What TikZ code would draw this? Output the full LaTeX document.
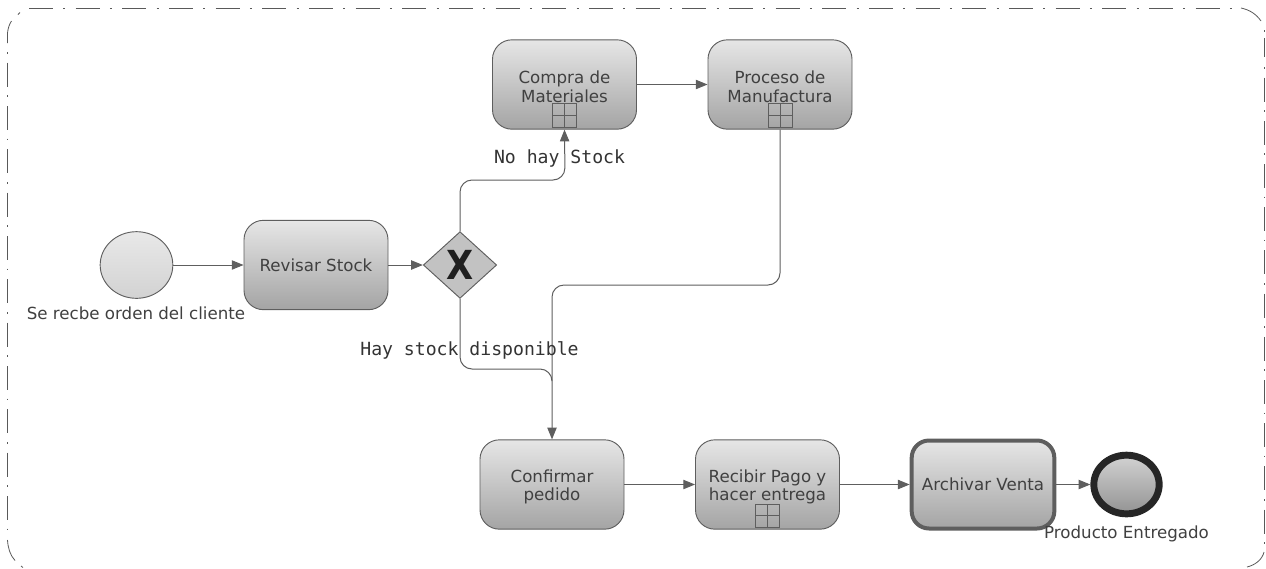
\documentclass[tikz,border=0pt]{standalone}
\usepackage{fontspec}
\setmainfont{DejaVu Sans}
\setmonofont{DejaVu Sans Mono}
\usetikzlibrary{arrows.meta,shapes.geometric,calc}
\definecolor{edgegray}{HTML}{5E5E5E}
\definecolor{txtgray}{HTML}{404040}
\definecolor{topgray}{HTML}{E6E6E6}
\definecolor{botgray}{HTML}{A4A4A4}
\newcommand{\lowertext}{\rule{0pt}{13pt}}
\tikzset{
  taskbox/.style={draw=edgegray,line width=0.7pt,rounded corners=14.5pt,minimum width=108pt,minimum height=67pt,inner sep=0pt,
    shade,top color=topgray,bottom color=botgray,text=txtgray,font=\fontsize{12.5}{14.1}\selectfont,align=center},
  startev/.style={draw=edgegray,line width=0.7pt,ellipse,minimum width=54.5pt,minimum height=50pt,inner sep=0pt,
    shade,top color=topgray!90!white,bottom color=topgray!70!botgray},
  endev/.style={draw=black!85,line width=5.2pt,ellipse,minimum width=49pt,minimum height=44pt,inner sep=0pt,
    shade,top color=topgray!70!botgray,bottom color=gray!85},
  gate/.style={draw=edgegray,line width=0.7pt,diamond,minimum width=55pt,minimum height=50pt,inner sep=0pt,aspect=1.1,fill=black!24},
  evcaption/.style={text=txtgray,font=\fontsize{12.5}{14}\selectfont,inner sep=0pt},
  flowlabel/.style={text=black!80,font=\ttfamily\fontsize{13.6}{15}\selectfont,inner sep=0pt},
  flow/.style={draw=edgegray,line width=0.75pt,-{Triangle[length=8.8pt,width=7pt]},rounded corners=9pt},
  plainflow/.style={draw=edgegray,line width=0.75pt,rounded corners=9pt},
  subgrid/.style={draw=edgegray,line width=0.6pt,minimum width=18pt,minimum height=17.5pt,inner sep=0pt,
    path picture={\draw[edgegray,line width=0.6pt] (path picture bounding box.north)--(path picture bounding box.south)
      (path picture bounding box.west)--(path picture bounding box.east);}},
  lane/.style={draw=black!65,line width=0.6pt}
}
\begin{document}
\begin{tikzpicture}[x=0.75pt,y=-0.75pt]
\useasboundingbox (0,0) rectangle (1266,568);
\clip (0,0) rectangle (1266,568);
% pool border
\draw[lane,dash pattern=on 18pt off 7.7pt on 1.5pt off 7.8pt] (29,8) -- (1236,8);
\draw[lane] (1241,8) .. controls (1250,10) and (1256,14) .. (1261,21);
\draw[lane] (1264,30) -- (1264,31.5);
\draw[lane] (1264,38) -- (1264,57);
\draw[lane,dash pattern=on 1.2pt off 6.75pt on 18pt off 6.45pt] (1264,67) -- (1264,550);
\draw[lane] (1264,552) .. controls (1262,560) and (1255,565) .. (1247,567);
\draw[lane] (7.5,43) -- (7.5,33) .. controls (8,28) and (9.5,24) .. (11.5,21);
\draw[lane] (18,14.5) -- (20,12.5);
\draw[lane,dash pattern=on 1.2pt off 6.8pt on 18pt off 6.5pt] (7.5,52) -- (7.5,538);
\draw[lane] (7.5,540) .. controls (8,548) and (10,555) .. (15,560.5);
\draw[lane] (21,566) -- (23,567.5);
% tasks
\node[startev] (start) at (136.5,265) {};
\node[taskbox] (revisar) at (316,265) {Revisar Stock};
\node[gate] (gw) at (460,265) {};
\node[font=\bfseries\fontsize{30}{32}\selectfont,xscale=0.88,text=black!88,inner sep=0pt] (xmark) at (460,265) {X};
\node[taskbox] (compra) at (564.5,84.5) {\lowertext Compra de\\Materiales};
\node[taskbox] (proceso) at (780,84.5) {\lowertext Proceso de\\Manufactura};
\node[taskbox] (confirmar) at (552,484.5) {\lowertext Confirmar\\pedido};
\node[taskbox] (recibir) at (767.5,484.5) {\lowertext Recibir Pago y\\hacer entrega};
\node[taskbox,draw=edgegray,line width=3pt,minimum width=107pt,minimum height=66pt,rounded corners=13pt] (archivar) at (983,484.5) {Archivar Venta};
\node[endev] (fin) at (1126.5,484.5) {};
% subprocess markers
\node[subgrid] (g1) at (564.7,115.5) {};
\node[subgrid] (g2) at (780.2,115.5) {};
\node[subgrid] (g3) at (767.5,515.7) {};
% connectors
\coordinate (up1) at (460,180);
\coordinate (up2) at (565,180);
\coordinate (d1) at (780,285);
\coordinate (d2) at (552,285);
\coordinate (b1) at (460,369);
\coordinate (b2) at (552,369);
\coordinate (b3) at (552,381);
\draw[flow] (start.east) -- (revisar.west);
\draw[flow] (revisar.east) -- (gw.west);
\draw[flow] (gw.north) -- (up1) -- (up2) -- (compra.south);
\draw[flow] (compra.east) -- (proceso.west);
\draw[flow] (proceso.south) -- (d1) -- (d2) -- (confirmar.north);
\draw[plainflow] (gw.south) -- (b1) -- (b2) -- (b3);
\draw[flow] (confirmar.east) -- (recibir.west);
\draw[flow] (recibir.east) -- (archivar.west);
\draw[flow] (archivar.east) -- (fin.west);
% labels
\node[evcaption] (l1) at (136,313) {Se recbe orden del cliente};
\node[evcaption] (l2) at (1126.5,534) {Producto Entregado};
\node[flowlabel] (l3) at (559.5,158.5) {No hay Stock};
\node[flowlabel] (l4) at (469.5,350) {Hay stock disponible};
\end{tikzpicture}
\end{document}
